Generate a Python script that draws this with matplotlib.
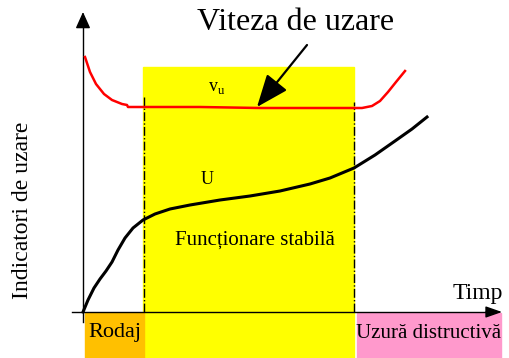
import matplotlib
matplotlib.use("Agg")
import matplotlib.pyplot as plt
from matplotlib.patches import Rectangle

plt.rcParams['font.family'] = ['Liberation Serif', 'DejaVu Serif']

# time axis and indicator values (origin at the axis crossing)
t_viteza = [2, 7, 13, 21, 29, 39, 44, 45, 52, 61, 117, 177, 247, 271, 279, 289, 297, 305, 313, 322]
viteza = [255, 240, 228, 218, 212, 208, 207, 205, 205, 205, 205, 204, 204, 204, 204, 206, 211, 220, 230, 241]

t_uzura = [0, 5, 11, 17, 23, 29, 35, 42, 50, 60, 72, 87, 107, 137, 167, 197, 227, 247, 271, 292, 312, 329, 344]
uzura = [0, 12, 24, 33, 41, 50, 62, 74, 84, 92, 98, 103, 107, 112, 116, 121, 128, 134, 144, 157, 171, 183, 195]

# phase limits on the time axis
faze = ["Rodaj", "Funcționare stabilă", "Uzură distructivă"]
t_rodaj = (2, 61)
t_stabil = (60, 271)
t_distr = (274, 418)

fig = plt.figure(figsize=(5.1, 3.58), dpi=100)
ax = fig.add_axes([0, 0, 1, 1])
ax.set_xlim(-83, 427)
ax.set_ylim(-46, 312)
ax.axis('off')

# phase boxes
ax.add_patch(Rectangle((t_stabil[0], -46), t_stabil[1] - t_stabil[0], 291, color='#FFFF00', zorder=0))
ax.add_patch(Rectangle((t_rodaj[0], -46), t_rodaj[1] - t_rodaj[0], 45, color='#FFC000', zorder=0))
ax.add_patch(Rectangle((t_distr[0], -46), t_distr[1] - t_distr[0], 45, color='#FF99CC', zorder=0))

# dash-dot phase borders
ax.plot([t_stabil[0] + 1, t_stabil[0] + 1], [0, 215], color='black', lw=1, ls='-.')
ax.plot([t_stabil[1], t_stabil[1]], [0, 210], color='black', lw=1, ls='-.')

# axes with arrows
ax.plot([0, 0], [-10, 290], color='black', lw=1)
ax.plot([-11, 410], [0, 0], color='black', lw=1)
ax.annotate('', xy=(0, 300), xytext=(0, 285),
            arrowprops=dict(arrowstyle='-|>,head_length=1.0,head_width=0.45', color='black', lw=1, shrinkA=0, shrinkB=0))
ax.annotate('', xy=(419, 0), xytext=(403, 0),
            arrowprops=dict(arrowstyle='-|>,head_length=1.0,head_width=0.35', color='black', lw=1, shrinkA=0, shrinkB=0))

# curves
ax.plot(t_viteza, viteza, color='red', lw=1.8)
ax.plot(t_uzura, uzura, color='black', lw=2.2)

# labels
ax.annotate('', xy=(174, 205), xytext=(224, 267),
            arrowprops=dict(arrowstyle='-|>,head_length=2.0,head_width=0.8', color='black', lw=1.6, shrinkA=0, shrinkB=0))
ax.text(213, 290, 'Viteza de uzare', ha='center', va='center', fontsize=23)
ax.text(134, 224, r'v$_\mathregular{u}$', ha='center', va='center', fontsize=13)
ax.text(124, 132, 'U', ha='center', va='center', fontsize=13)
ax.text(172, 72, faze[1], ha='center', va='center', fontsize=15)
ax.text(-61, 102, 'Indicatori de uzare', ha='center', va='center', rotation=90, fontsize=17)
ax.text(395, 19, 'Timp', ha='center', va='center', fontsize=17)
ax.text((t_rodaj[0] + t_rodaj[1]) / 2, -21, faze[0], ha='center', va='center', fontsize=16)
ax.text((t_distr[0] + t_distr[1]) / 2, -21, faze[2], ha='center', va='center', fontsize=15)

fig.savefig('out.png', dpi=100)
